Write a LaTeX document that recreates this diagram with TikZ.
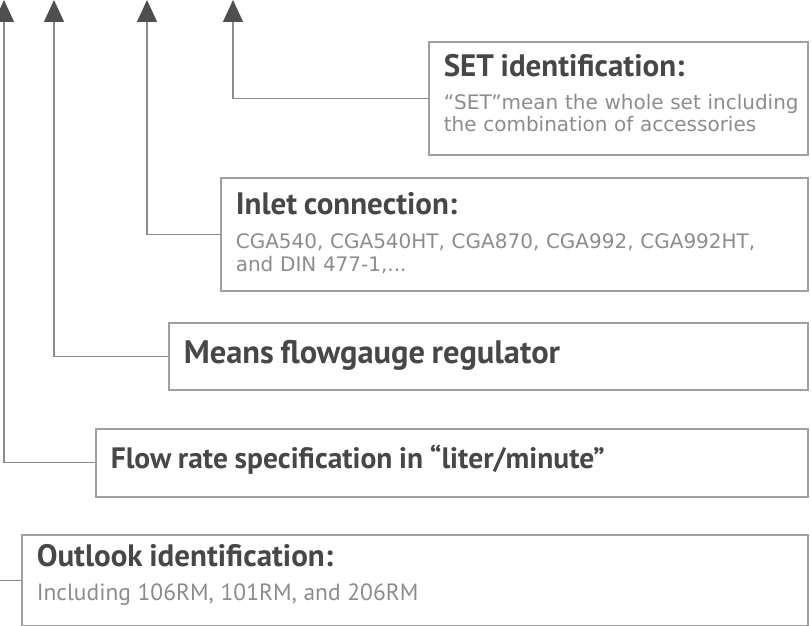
\documentclass[tikz,border=0pt]{standalone}
\usepackage{fontspec}
\setmainfont{DejaVu Sans}
\newfontfamily\headfont{PT Sans}
\usetikzlibrary{arrows.meta}
\definecolor{framegray}{HTML}{A0A0A0}
\definecolor{leadgray}{HTML}{8C8C8C}
\definecolor{tipgray}{HTML}{4F4F4F}
\definecolor{titlegray}{HTML}{474747}
\definecolor{bodygray}{HTML}{8C8C8C}
\newcommand{\boxtitle}[1]{{\headfont\bfseries\fontsize{31}{34}\selectfont\color{titlegray}#1}}
\newcommand{\boxline}[2]{{\headfont\bfseries\fontsize{#1}{34}\selectfont\color{titlegray}#2}}

\begin{document}
\begin{tikzpicture}[x=1pt,y=-1pt,
    info/.style={draw=framegray, line width=1.6pt, anchor=north west,
      inner xsep=15pt, inner ysep=0pt, align=left, text=bodygray,
      font=\fontsize{20}{22.5}\selectfont},
    lead/.style={draw=leadgray, line width=1.3pt,
      -{Triangle[length=22pt,width=20pt,color=tipgray]}},
    stub/.style={draw=leadgray, line width=1.3pt}]
  \useasboundingbox (0,0) rectangle (811,626);
  % arrow tips along the top
  \coordinate (tipA) at (4,0);
  \coordinate (tipB) at (54,0);
  \coordinate (tipC) at (147,0);
  \coordinate (tipD) at (233,0);
  \coordinate (edge) at (0,0);
  % the boxes
  \node[info, text width=349pt, text height=35pt, text depth=78pt] (setbox) at (428,41)
    {\boxtitle{SET identification:}\\[10pt]
     \mbox{“SET”mean the whole set including}\\
     the combination of accessories};
  \node[info, text width=557pt, text height=37pt, text depth=76pt] (inletbox) at (220,177)
    {\boxtitle{Inlet connection:}\\[11.5pt]
     CGA540, CGA540HT, CGA870, CGA992, CGA992HT,\\
     and DIN 477-1,...};
  \node[info, text width=609pt, text height=41pt, text depth=26pt] (meansbox) at (168,322)
    {\boxline{32.5}{Means flowgauge regulator}};
  \node[info, text width=682pt, text height=40pt, text depth=28pt] (flowbox) at (95,428)
    {\boxline{29.5}{Flow rate specification in “liter/minute”}};
  \node[info, text width=756pt, text height=32pt, text depth=59pt] (lookbox) at (21,534)
    {\boxtitle{Outlook identification:}\\[11.5pt]
     {\headfont\fontsize{23.5}{26}\selectfont Including 106RM, 101RM, and 206RM}};
  % connectors
  \draw[lead] (setbox.west) -| (tipD);
  \draw[lead] (inletbox.west) -| (tipC);
  \draw[lead] (meansbox.west) -| (tipB);
  \draw[lead] (flowbox.west) -| (tipA);
  \draw[stub] (lookbox.west) -- (lookbox.west -| edge);
\end{tikzpicture}
\end{document}
